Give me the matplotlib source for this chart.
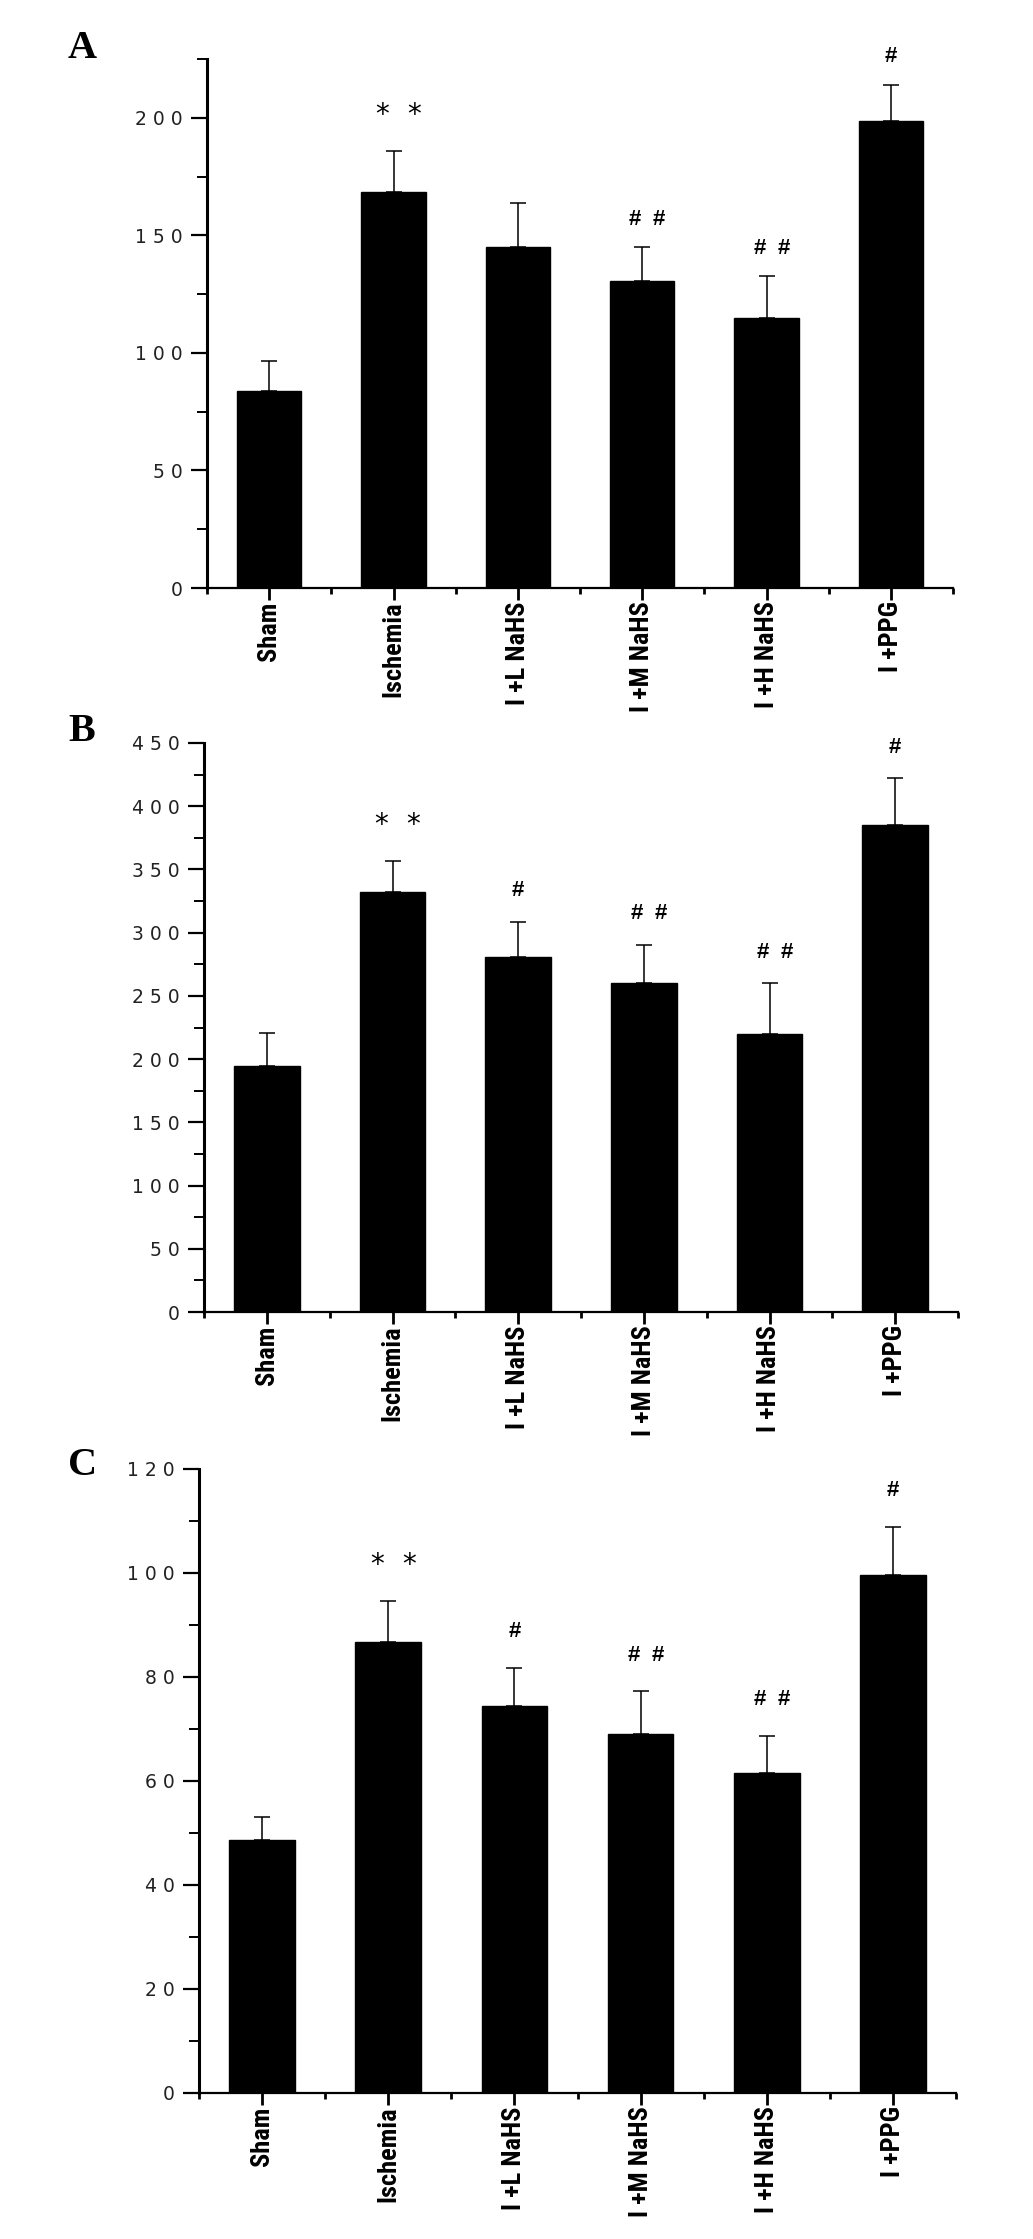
import numpy as np
import matplotlib
matplotlib.use("Agg")
import matplotlib.pyplot as plt
from matplotlib import font_manager
from matplotlib.ticker import MultipleLocator, FuncFormatter

# groups on the x axis (same for all three panels)
groups = ["Sham", "Ischemia", "I +L NaHS", "I +M NaHS", "I +H NaHS", "I +PPG"]

# panel A
a_mean = [84, 168.5, 145, 130.5, 115, 198.5]
a_err = [12.7, 17.2, 18.7, 14.5, 17.6, 15.6]
a_marks = ["", "* *", "", "# #", "# #", "#"]

# panel B
b_mean = [194.5, 332, 281, 260, 219.5, 385]
b_err = [26.2, 25, 27.7, 30.6, 40.6, 37.3]
b_marks = ["", "* *", "#", "# #", "# #", "#"]

# panel C
c_mean = [48.6, 86.7, 74.4, 69.1, 61.5, 99.6]
c_err = [4.5, 7.9, 7.4, 8.2, 7.2, 9.3]
c_marks = ["", "* *", "#", "# #", "# #", "#"]

W, H = 1033, 2239

# pick a narrow bold font for the group labels if one is installed
names = {f.name for f in font_manager.fontManager.ttflist}
if "Liberation Sans Narrow" in names:
    lab_font, lab_size = "Liberation Sans Narrow", 19.5
elif "Roboto Condensed" in names:
    lab_font, lab_size = "Roboto Condensed", 19
else:
    lab_font, lab_size = "Liberation Sans", 17

fig = plt.figure(figsize=(W / 100, H / 100), dpi=100)


def px_rect(left, top, right, bottom):
    return [left / W, 1 - bottom / H, (right - left) / W, (bottom - top) / H]


def spaced(v, pos):
    return " ".join(str(int(round(v))))


def panel(rect, mean, err, marks, ymax, major, hash_dy, letter, letter_y):
    ax = fig.add_axes(rect)
    x = np.arange(len(groups))
    ax.bar(x, mean, width=0.52, color="black", edgecolor="black", zorder=2)
    ax.errorbar(x, mean, yerr=[np.zeros(len(err)), err], fmt="none",
                ecolor="black", elinewidth=1.1, capsize=6, capthick=1.1, zorder=3)
    ax.set_xlim(-0.5, len(groups) - 0.5)
    ax.set_ylim(0, ymax)
    for s in ["top", "right"]:
        ax.spines[s].set_visible(False)
    ax.spines["left"].set_linewidth(2.2)
    ax.spines["bottom"].set_linewidth(1.6)

    ax.yaxis.set_major_locator(MultipleLocator(major))
    ax.yaxis.set_minor_locator(MultipleLocator(major / 2))
    ax.yaxis.set_major_formatter(FuncFormatter(spaced))
    ax.tick_params(axis="y", which="major", length=11.5, width=1.6, pad=6,
                   labelsize=13.5)
    ax.tick_params(axis="y", which="minor", length=7, width=1.4)
    for t in ax.get_yticklabels():
        t.set_fontfamily("DejaVu Sans")
        t.set_color("#222222")

    ax.set_xticks(x)
    ax.set_xticks(np.arange(-0.5, len(groups)), minor=True)
    ax.set_xticklabels(groups, rotation=90, fontfamily=lab_font,
                       fontweight="bold", fontsize=lab_size)
    ax.tick_params(axis="x", which="major", length=8.5, width=2, pad=1)
    ax.tick_params(axis="x", which="minor", length=4, width=2)

    for xi, m, e, mk in zip(x, mean, err, marks):
        if not mk:
            continue
        parts = mk.split()
        top = m + e
        if parts[0] == "*":
            gap, dy, size, fam, wt = 32, 36, 20, "DejaVu Sans", "normal"
        else:
            gap, dy, size, fam, wt = 24, hash_dy, 16, "Liberation Sans", "bold"
        if len(parts) == 2:
            offs = [5 - gap / 2, 5 + gap / 2]
        else:
            offs = [0]
        for p, dx in zip(parts, offs):
            ax.annotate(p, (xi, top), xytext=(dx, dy), textcoords="offset pixels",
                        ha="center", va="center", fontsize=size, fontfamily=fam,
                        fontweight=wt, annotation_clip=False)

    fig.text(68 / W, 1 - letter_y / H, letter, fontfamily="Liberation Serif",
             fontweight="bold", fontsize=29, va="baseline", ha="left")
    return ax


panel(px_rect(207, 59, 953, 588), a_mean, a_err, a_marks, 225, 50, 28, "A", 58)
panel(px_rect(204, 743, 958, 1312), b_mean, b_err, b_marks, 450, 50, 31, "B", 741)
panel(px_rect(199, 1469, 956, 2093), c_mean, c_err, c_marks, 120, 20, 36, "C", 1475)

fig.savefig("out.png", dpi=100)
